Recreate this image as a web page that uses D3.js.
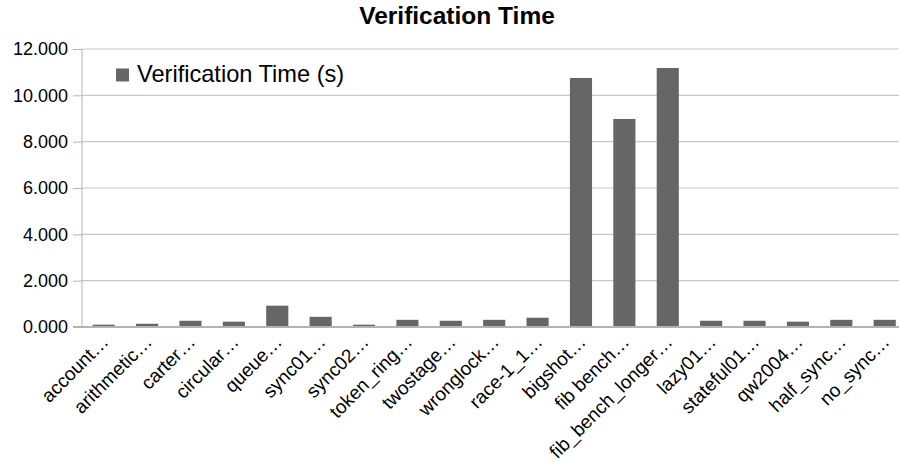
<!DOCTYPE html>
<html>
<head>
<meta charset="utf-8">
<script src="https://cdn.jsdelivr.net/npm/d3@7"></script>
<style>
  html, body { margin: 0; padding: 0; background: #fff; }
  svg { display: block; font-family: "Liberation Sans", Arial, sans-serif; }
</style>
</head>
<body>
<svg id="chart" width="899" height="462"></svg>
<script>
const categories = ["account…", "arithmetic…", "carter…", "circular…", "queue…", "sync01…", "sync02…",
  "token_ring…", "twostage…", "wronglock…", "race-1_1…", "bigshot…", "fib bench…", "fib_bench_longer…",
  "lazy01…", "stateful01…", "qw2004…", "half_sync…", "no_sync…"];
const verificationTime = [0.10, 0.14, 0.27, 0.23, 0.92, 0.44, 0.10, 0.31, 0.27, 0.31, 0.40,
  10.75, 8.98, 11.18, 0.27, 0.27, 0.23, 0.31, 0.31];
const yTicks = [0, 2, 4, 6, 8, 10, 12];
const seriesName = "Verification Time (s)";
const chartTitle = "Verification Time";

const svg = d3.select("#chart");
const mLeft = 82, mRight = 906.4, mTop = 49, mBottom = 327;

const x = d3.scaleBand().domain(categories).range([mLeft, mRight]).paddingInner(0.49).paddingOuter(0.245);
const y = d3.scaleLinear().domain([0, 12]).range([mBottom, mTop]);

// gridlines
svg.append("g").selectAll("line").data(yTicks.filter(d => d > 0)).join("line")
  .attr("x1", mLeft).attr("x2", 899)
  .attr("y1", d => y(d)).attr("y2", d => y(d))
  .attr("stroke", "#c8c8c8").attr("stroke-width", 1.2);

// y axis
const yAxis = d3.axisLeft(y).tickValues(yTicks).tickSize(9).tickPadding(5)
  .tickFormat(d => d3.format(".3f")(d));
const gy = svg.append("g").attr("transform", `translate(${mLeft},0)`).call(yAxis);
gy.select(".domain").attr("stroke", "#b3b3b3").attr("d", `M0,${mTop}V${mBottom}`);
gy.selectAll(".tick line").attr("stroke", "#b3b3b3");
gy.selectAll(".tick text").attr("font-size", 18).attr("fill", "#000")
  .attr("font-family", "Liberation Sans, Arial, sans-serif");

// bars
svg.append("g").selectAll("rect").data(verificationTime).join("rect")
  .attr("x", (d, i) => x(categories[i]))
  .attr("width", x.bandwidth())
  .attr("y", d => y(d))
  .attr("height", d => y(0) - y(d))
  .attr("fill", "#666666");

// x axis
const xAxis = d3.axisBottom(x).tickSize(0).tickPadding(0);
const gx = svg.append("g").attr("transform", `translate(0,${mBottom})`).call(xAxis);
gx.select(".domain").attr("stroke", "#b3b3b3").attr("stroke-width", 2).attr("d", `M${mLeft - 9},0H899`);
gx.selectAll(".tick text")
  .attr("font-size", 19).attr("fill", "#000")
  .attr("font-family", "Liberation Sans, Arial, sans-serif")
  .attr("text-anchor", "end")
  .attr("dy", null)
  .attr("y", null)
  .attr("transform", "translate(6,16) rotate(-45)");

// title
svg.append("text").attr("x", 457).attr("y", 24).attr("text-anchor", "middle")
  .attr("font-size", 24.5).attr("font-weight", "bold").attr("fill", "#000").text(chartTitle);

// legend
const lg = svg.append("g");
lg.append("rect").attr("x", 116).attr("y", 68.5).attr("width", 13).attr("height", 13).attr("fill", "#666666");
lg.append("text").attr("x", 137).attr("y", 82).attr("font-size", 23.6).attr("fill", "#000").text(seriesName);
</script>
</body>
</html>
